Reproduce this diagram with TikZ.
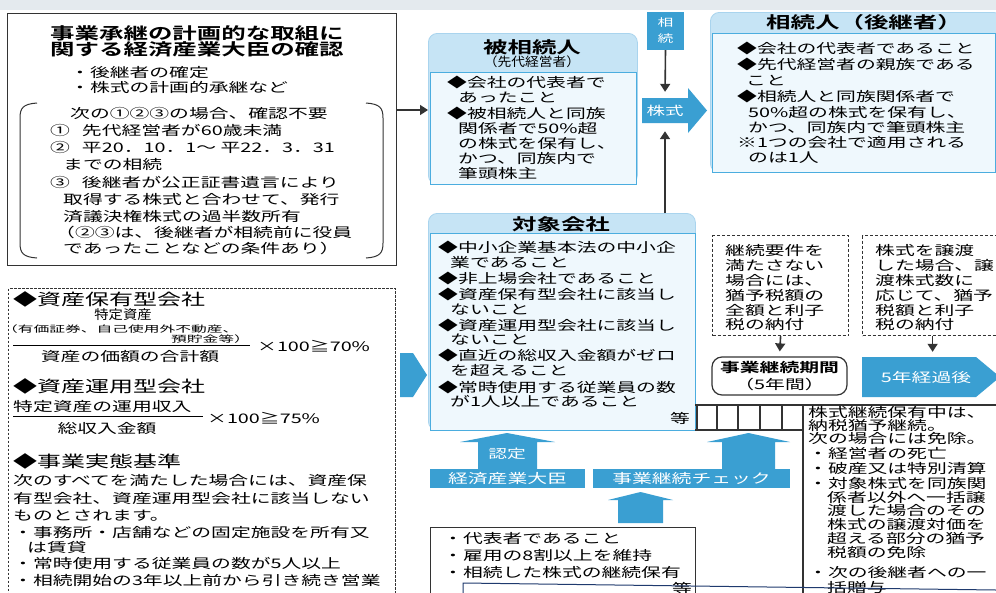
\documentclass[tikz,border=0pt]{standalone}
\usepackage{fontspec}
\setmainfont{Noto Sans CJK JP}[FakeStretch=1.5,BoldFont={Noto Sans CJK JP Bold}]
\newfontfamily\jpn{Noto Sans CJK JP}[FakeStretch=1.1]
\newfontfamily\jpw{Noto Sans CJK JP}[FakeStretch=1.75]
\usetikzlibrary{arrows.meta}
\definecolor{kblue}{HTML}{3A9FD2}
\definecolor{hdr}{HTML}{C6E4F5}
\definecolor{hdrb}{HTML}{A9D4EE}
\definecolor{inner}{HTML}{EFF8FD}
\definecolor{bord}{HTML}{4BADDF}
\definecolor{dk}{HTML}{333333}
\definecolor{navy}{HTML}{1F3A6E}
\definecolor{topband}{HTML}{E4EAEE}
\tikzset{
  txt/.style={inner sep=0pt, font=\fontsize{13.2}{15}\selectfont, text=black},
  hd/.style={inner sep=0pt, font=\fontsize{16.3}{18}\selectfont\bfseries},
  lhd/.style={font=\fontsize{16}{18}\selectfont},
  wl/.style={inner sep=0pt, text=white, font=\fontsize{13.2}{15}\selectfont},
  arr/.style={-{Triangle[length=8pt,width=10pt]}, line width=1.6pt, draw=dk},
  boxk/.style={draw=dk, line width=1.3pt, inner sep=0pt, fill=white},
  hdrbox/.style={fill=hdr, draw=hdrb, line width=0.8pt, rounded corners=9pt, inner sep=0pt},
  inbox/.style={fill=inner, draw=bord, line width=1.3pt, inner sep=0pt},
  dsh/.style={draw=dk, dash pattern=on 3pt off 2pt, line width=1.2pt, inner sep=0pt},
  ln/.style={draw=dk, line width=1.1pt},
  bluebox/.style={fill=kblue, text=white, inner sep=0pt, font=\fontsize{13.2}{15}\selectfont}
}
\newcommand\jl[5][]{\node[txt,anchor=base west,#1] (#2) at (#3,{#4+5}) {#5};}
\begin{document}
\begin{tikzpicture}[x=1pt,y=-1pt]
\useasboundingbox (0,0) rectangle (996,592);
\fill[white] (0,0) rectangle (996,592);
\fill[topband] (0,0) rectangle (996,10);

% ---------- top-left box
\node[boxk, anchor=north west, minimum width=389pt, minimum height=252pt] (tl) at (7,13) {};
\node[hd, anchor=base west] (tlh1) at (50,39) {事業承継の計画的な取組に};
\node[hd, anchor=base west] (tlh2) at (50,55) {関する経済産業大臣の確認};
\jl{t1}{70}{72}{・後継者の確定}
\jl{t2}{70}{87}{・株式の計画的承継など}
\jl{t3}{70}{113}{次の①②③の場合、確認不要}
\jl{t4}{50}{130}{①\hspace{12pt}先代経営者が60歳未満}
\jl{t5}{50}{147}{②\hspace{12pt}平20．10．1～ 平22．3．31}
\jl{t6}{63}{164}{までの相続}
\jl{t7}{50}{182}{③\hspace{12pt}後継者が公正証書遺言により}
\jl{t8}{63}{199}{取得する株式と合わせて、発行}
\jl{t9}{63}{216}{済議決権株式の過半数所有}
\jl{t10}{55}{232}{（②③は、後継者が相続前に役員}
\jl{t11}{63}{248}{であったことなどの条件あり）}
\draw[dk, line width=1pt] (37,103) .. controls (23,104) and (20,108) .. (20,118) -- (20,243) .. controls (20,253) and (23,257) .. (37,258);
\draw[dk, line width=1pt] (366,103) .. controls (380,104) and (383,108) .. (383,118) -- (383,243) .. controls (383,253) and (380,257) .. (366,258);

% ---------- 被相続人
\node[hdrbox, anchor=north west, minimum width=209pt, minimum height=151pt] (hi) at (428,33) {};
\node[inbox, anchor=north west, minimum width=206pt, minimum height=112pt] (hiin) at (430,72) {};
\node[hd] (hih) at (532,47) {被相続人};
\node[txt, font=\jpn\fontsize{12.5}{14}\selectfont] (his) at (532,62) {（先代経営者）};
\jl{h1}{447}{82}{◆会社の代表者で}
\jl{h2}{458}{97}{あったこと}
\jl{h3}{447}{113}{◆被相続人と同族}
\jl{h4}{458}{128}{関係者で50\%超}
\jl{h5}{458}{143}{の株式を保有し、}
\jl{h6}{458}{158}{かつ、同族内で}
\jl{h7}{458}{173}{筆頭株主}
\draw[arr] (tl.east |- 0,110) -- (hi.west |- 0,110);

% ---------- 相続 / 株式
\node[fill=kblue, text=white, minimum width=37pt, minimum height=38pt, align=center, font=\fontsize{10.5}{16}\selectfont, inner sep=0pt] (souzoku) at (665.5,31) {相\\続};
\fill[kblue] (642,98) -- (688,98) -- (688,88) -- (707,110.5) -- (688,133) -- (688,123) -- (642,123) -- cycle;
\node[wl, font=\fontsize{12.3}{14}\selectfont, minimum width=46pt, minimum height=25pt] (kabu) at (665,110.5) {株式};
\draw[arr, shorten >=6pt] (souzoku.south) -- (kabu.north);

% ---------- 相続人（後継者）
\node[hdrbox, anchor=north west, minimum width=292pt, minimum height=160pt] (sz) at (710,12) {};
\node[inbox, anchor=north west, minimum width=283pt, minimum height=139pt] (szin) at (712,33) {};
\node[hd] (szh) at (864,22) {相続人（後継者）};
\jl{s1}{737}{48}{◆会社の代表者であること}
\jl{s2}{737}{64}{◆先代経営者の親族である}
\jl{s3}{746}{80}{こと}
\jl{s4}{737}{96}{◆相続人と同族関係者で}
\jl{s5}{748}{112}{50\%超の株式を保有し、}
\jl{s6}{748}{127}{かつ、同族内で筆頭株主}
\jl{s7}{737}{142}{※1つの会社で適用される}
\jl{s8}{748}{157}{のは1人}

% ---------- 対象会社
\node[hdrbox, anchor=north west, minimum width=267pt, minimum height=217pt] (ts) at (428,213) {};
\node[inbox, anchor=north west, minimum width=265pt, minimum height=197pt] (tsin) at (430,233) {};
\node[hd] (tsh) at (561,224) {対象会社};
\jl{c1}{438}{247}{◆中小企業基本法の中小企}
\jl{c2}{450}{262}{業であること}
\jl{c3}{438}{278}{◆非上場会社であること}
\jl{c4}{438}{294}{◆資産保有型会社に該当し}
\jl{c5}{450}{309}{ないこと}
\jl{c6}{438}{325}{◆資産運用型会社に該当し}
\jl{c7}{450}{339}{ないこと}
\jl{c8}{438}{355}{◆直近の総収入金額がゼロ}
\jl{c9}{450}{370}{を超えること}
\jl{c10}{438}{387}{◆常時使用する従業員の数}
\jl{c11}{450}{401}{が1人以上であること}
\jl{c12}{670}{418}{等}
\draw[arr, shorten >=8pt] (ts.north -| kabu.south) -- (kabu.south);

% ---------- left dashed box
\node[dsh, dash pattern=on 2.5pt off 1.5pt, line width=1.3pt, anchor=north west, minimum width=387pt, minimum height=330pt] (dl) at (8,288) {};
\jl[lhd]{d1}{13}{300}{◆資産保有型会社}
\node[txt, font=\jpn\fontsize{13}{14}\selectfont] (f1a) at (123,315) {特定資産};
\node[txt, font=\jpw\fontsize{9}{10}\selectfont, anchor=base west] (f1b) at (2,332) {（有価証券、自己使用外不動産、};
\node[txt, font=\jpw\fontsize{9}{10}\selectfont, anchor=base east] (f1c) at (250,342.5) {預貯金等）};
\draw[black, line width=1pt] (13,345) -- (250,345);
\node[txt] (f1d) at (130,356) {資産の価額の合計額};
\node[txt, anchor=west] (f1e) at (257,346) {×100≧70\%};
\jl[lhd]{d2}{13}{387}{◆資産運用型会社}
\jl{f2a}{13}{406}{特定資産の運用収入}
\draw[black, line width=1pt] (13,416) -- (203,416);
\node[txt] (f2b) at (107,428) {総収入金額};
\node[txt, anchor=west] (f2c) at (207,418) {×100≧75\%};
\jl[lhd]{d3}{13}{462}{◆事業実態基準}
\jl{e1}{13}{480}{次のすべてを満たした場合には、資産保}
\jl{e2}{13}{498}{有型会社、資産運用型会社に該当しない}
\jl{e3}{13}{515}{ものとされます。}
\jl{e4}{13}{532}{・事務所・店舗などの固定施設を所有又}
\jl{e5}{27}{547}{は賃貸}
\jl{e6}{13}{563}{・常時使用する従業員の数が5人以上}
\jl{e7}{13}{580}{・相続開始の3年以上前から引き続き営業}
\fill[kblue] (400,353) -- (413,353) -- (427,375) -- (413,397) -- (400,397) -- cycle;

% ---------- right dashed boxes
\node[dsh, anchor=north west, minimum width=136pt, minimum height=100pt] (dA) at (712,235) {};
\node[dsh, anchor=north west, minimum width=140pt, minimum height=100pt] (dB) at (862,235) {};
\jl{a1}{725}{250}{継続要件を}
\jl{a2}{725}{265}{満たさない}
\jl{a3}{725}{280}{場合には、}
\jl{a4}{725}{295}{猶予税額の}
\jl{a5}{725}{310}{全額と利子}
\jl{a6}{725}{324}{税の納付}
\jl{b1}{875}{250}{株式を譲渡}
\jl{b2}{875}{265}{した場合、譲}
\jl{b3}{875}{280}{渡株式数に}
\jl{b4}{875}{295}{応じて、猶予}
\jl{b5}{875}{310}{税額と利子}
\jl{b6}{875}{324}{税の納付}

\node[draw=dk, line width=1.2pt, rounded corners=10pt, minimum width=135pt, minimum height=38pt, inner sep=0pt, align=center, font=\fontsize{13.2}{17}\selectfont] (kikan) at (779.5,376) {{\bfseries 事業継続期間}\\（5年間）};
\fill[kblue] (862,357) -- (976,357) -- (1000,377) -- (976,397) -- (862,397) -- cycle;
\node[wl, minimum width=110pt, minimum height=40pt] (gokei) at (926,377) {5年経過後};
\draw[arr, shorten >=5pt] (dA.south) -- (kikan.north);
\draw[arr, shorten >=5pt] (dB.south) -- (dB.south |- gokei.north);

% ---------- timeline
\draw[ln] (695,405) -- (996,405);
\draw[ln] (695,430) -- (803,430);
\foreach \x in {697,717,738,760,782} \draw[ln] (\x,405) -- (\x,430);
\draw[ln] (803,405) -- (803,600);
\jl{r1}{808}{412}{株式継続保有中は、}
\jl{r2}{808}{425}{納税猶予継続。}
\jl{r3}{808}{438}{次の場合には免除。}
\jl{r4}{808}{453}{・経営者の死亡}
\jl{r5}{808}{468}{・破産又は特別清算}
\jl{r6}{808}{483}{・対象株式を同族関}
\jl{r7}{827}{497}{係者以外へ一括譲}
\jl{r8}{827}{510}{渡した場合のその}
\jl{r9}{827}{524}{株式の譲渡対価を}
\jl{r10}{827}{538}{超える部分の猶予}
\jl{r11}{827}{552}{税額の免除}
\jl{r12}{808}{572}{・次の後継者への一}
\jl{r13}{827}{587}{括贈与}

% ---------- blue arrows and labels
\fill[kblue] (478,469) -- (478,442) -- (460,442) -- (507,433) -- (555,442) -- (537,442) -- (537,469) -- cycle;
\node[wl, font=\fontsize{12.5}{14}\selectfont] (nintei) at (507,454) {認定};
\node[bluebox, minimum width=155pt, minimum height=19pt] (meti) at (507.5,478.5) {経済産業大臣};
\node[bluebox, minimum width=197pt, minimum height=19pt] (check) at (691.5,478.5) {事業継続チェック};
\fill[kblue] (722,469) -- (722,442) -- (707,442) -- (748.5,433) -- (790,442) -- (775,442) -- (775,469) -- cycle;
\fill[kblue] (618,523) -- (618,500) -- (608,500) -- (640.5,492) -- (673,500) -- (663,500) -- (663,523) -- cycle;

% ---------- bottom box
\node[boxk, anchor=north west, minimum width=265pt, minimum height=80pt] (bb) at (430,527) {};
\jl{g1}{443}{538}{・代表者であること}
\jl{g2}{443}{555}{・雇用の8割以上を維持}
\jl{g3}{443}{572}{・相続した株式の継続保有}
\jl{g4}{672}{588}{等}
\draw[navy, line width=1pt] (463,595) -- (463,583) -- (996,590);
\end{tikzpicture}
\end{document}
